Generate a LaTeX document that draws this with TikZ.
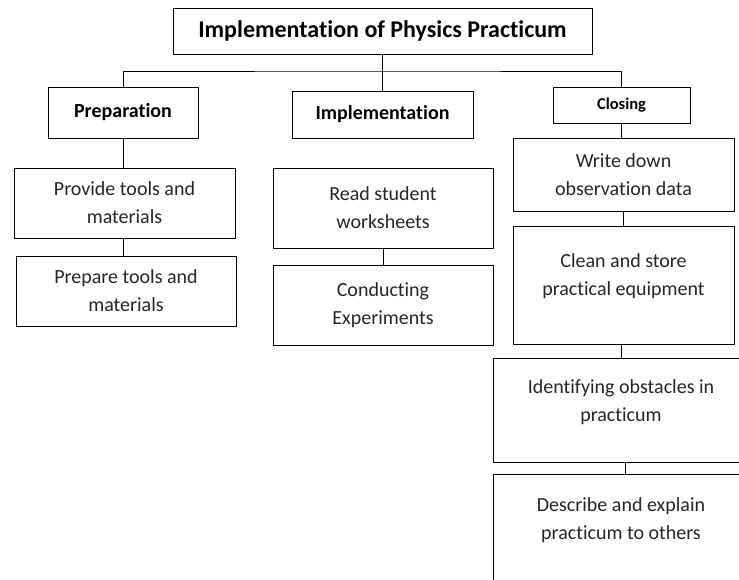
\documentclass[tikz,border=0pt]{standalone}
\usepackage{fontspec}
\setmainfont{Carlito}[Ligatures=NoCommon]

\begin{document}
\begin{tikzpicture}[
  x=1pt, y=-1pt,
  box/.style={
    draw=black, line width=1pt, align=center, inner sep=2pt,
    text=black!85, font=\fontsize{20}{28}\selectfont
  },
  headbox/.style={box, text=black, font=\fontsize{20}{24}\selectfont\bfseries},
  link/.style={line width=1pt}
]
\path[use as bounding box, clip] (0,0) rectangle (739,579);
% top level
\node[headbox, minimum width=419, minimum height=46, font=\fontsize{24}{28}\selectfont\bfseries] (title) at (382.5,31) {Implementation of Physics Practicum};
\coordinate (bar) at (382.5,71);
% second level
\node[headbox, minimum width=150, minimum height=51] (prep) at (123,112.5) {Preparation};
\node[headbox, minimum width=181, minimum height=47] (impl) at (382.5,114.5) {Implementation};
\node[headbox, minimum width=137, minimum height=36, font=\fontsize{16.5}{18}\selectfont\bfseries] (closing) at (621.5,105) {Closing};
% preparation column
\node[box, minimum width=221, minimum height=70] (provide) at (124.5,203) {Provide tools and\\materials};
\node[box, minimum width=220, minimum height=70] (prepare) at (126,291) {Prepare tools and\\materials};
% implementation column
\node[box, minimum width=220, minimum height=80] (read) at (383,208) {Read student\\worksheets};
\node[box, minimum width=220, minimum height=80] (conduct) at (383,305) {Conducting\\Experiments};
% closing column
\node[box, minimum width=221, minimum height=73] (write) at (623.5,174.5) {Write down\\observation data};
\node[box, minimum width=221, minimum height=118, label={[name=clean-t, box, draw=none, yshift=9pt]center:{Clean and store\\practical equipment}}] (clean) at (623.5,285) {};
\node[box, minimum width=256, minimum height=104, label={[name=identify-t, box, draw=none, yshift=8pt]center:{Identifying obstacles in\\practicum}}] (identify) at (621,410) {};
\node[box, minimum width=256, minimum height=120, label={[name=describe-t, box, draw=none, yshift=14pt]center:{Describe and explain\\practicum to others}}] (describe) at (621,534) {};
% connectors
\draw[link] (title.south) -- (impl.north);
\draw[link] (prep.north) |- (bar) -| (closing.north);
\draw[link] (prep.south) -- (prep.south |- provide.north);
\draw[link] (prep.south |- provide.south) -- (prep.south |- prepare.north);
\draw[link] (read) -- (conduct);
\draw[link] (closing.south) -- (closing.south |- write.north);
\draw[link] (write) -- (clean);
\draw[link] (closing.south |- clean.south) -- (closing.south |- identify.north);
\draw[link] ([xshift=4pt]identify.south) -- ([xshift=4pt]identify.south |- describe.north);
\end{tikzpicture}
\end{document}
